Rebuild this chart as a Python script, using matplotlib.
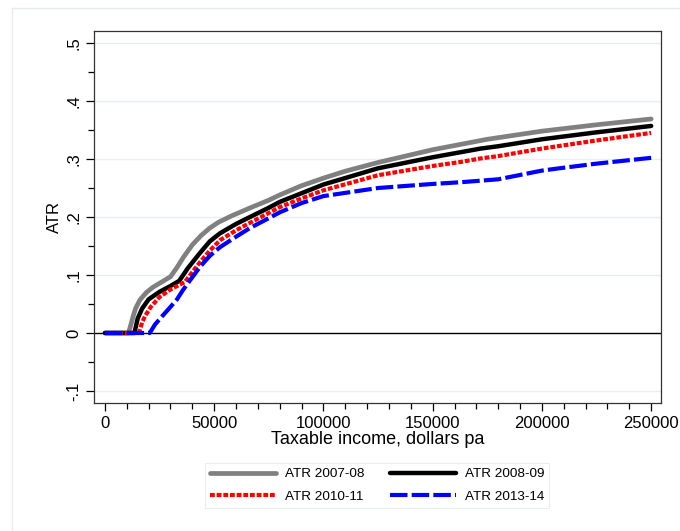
import matplotlib
matplotlib.use("Agg")
import matplotlib.pyplot as plt
from matplotlib.lines import Line2D
from matplotlib.ticker import MultipleLocator, FuncFormatter

plt.rcParams["font.family"] = ["Liberation Sans", "DejaVu Sans"]

# ATR curves (income in dollars, average tax rate)
inc_0708 = [0, 10800, 12000, 13000, 14000, 16000, 19000, 22000, 26000, 30000, 33000,
            36000, 40000, 44000, 48000, 52000, 58000, 66000, 75000, 80000, 90000,
            100000, 110000, 125000, 150000, 175000, 200000, 225000, 250000]
atr_0708 = [0, 0, 0.016, 0.03, 0.042, 0.057, 0.07, 0.079, 0.088, 0.097, 0.113,
            0.131, 0.152, 0.168, 0.181, 0.191, 0.202, 0.215, 0.229, 0.238, 0.254,
            0.267, 0.279, 0.294, 0.316, 0.334, 0.348, 0.359, 0.369]

inc_0809 = [0, 13500, 15000, 17000, 20000, 25000, 30000, 34000, 38000, 43500, 48000,
            52700, 60000, 66400, 75000, 80000, 90000, 100000, 125000, 150000, 172000,
            180000, 200000, 225000, 250000]
atr_0809 = [0, 0, 0.025, 0.042, 0.058, 0.071, 0.081, 0.09, 0.112, 0.138, 0.158,
            0.172, 0.188, 0.2, 0.216, 0.226, 0.241, 0.256, 0.284, 0.303, 0.318,
            0.322, 0.334, 0.346, 0.357]

inc_1011 = [0, 15600, 17000, 18500, 21000, 25000, 30000, 36600, 40000, 43500, 48000,
            52700, 60000, 66400, 75000, 80000, 90000, 100000, 125000, 150000, 163000,
            172000, 180000, 200000, 225000, 250000]
atr_1011 = [0, 0, 0.018, 0.03, 0.045, 0.062, 0.075, 0.088, 0.105, 0.122, 0.142,
            0.16, 0.177, 0.19, 0.207, 0.217, 0.232, 0.246, 0.272, 0.288, 0.295,
            0.301, 0.305, 0.318, 0.332, 0.345]

inc_1314 = [0, 20500, 23000, 26000, 30000, 33000, 35700, 39000, 43500, 48000, 52700,
            60000, 66400, 75000, 80000, 90000, 100000, 125000, 150000, 163000, 180000,
            200000, 208000, 225000, 250000]
atr_1314 = [0, 0, 0.015, 0.028, 0.045, 0.058, 0.074, 0.091, 0.114, 0.133, 0.148,
            0.166, 0.181, 0.198, 0.208, 0.224, 0.236, 0.25, 0.257, 0.26, 0.265,
            0.28, 0.284, 0.292, 0.302]

labels = ["ATR 2007-08", "ATR 2008-09", "ATR 2010-11", "ATR 2013-14"]
y_ticks = [-0.1, 0, 0.1, 0.2, 0.3, 0.4, 0.5]
x_ticks = [0, 50000, 100000, 150000, 200000, 250000]

GRID = "#e8eff1"

fig = plt.figure(figsize=(6.8, 5.31), dpi=100, facecolor="white")
ax = fig.add_axes([94 / 680, 1 - 403 / 531, 567 / 680, 372 / 531])

for y in y_ticks:
    if y != 0:
        ax.axhline(y, color=GRID, lw=1.0, zorder=0)
ax.axhline(0, color="black", lw=1.0, zorder=1)

l1, = ax.plot(inc_0708, atr_0708, color="#808080", lw=3.4, solid_capstyle="round",
              solid_joinstyle="round", label=labels[0], zorder=3)
l2, = ax.plot(inc_0809, atr_0809, color="black", lw=3.2, solid_capstyle="round",
              solid_joinstyle="round", label=labels[1], zorder=4)
l3, = ax.plot(inc_1011, atr_1011, color="red", lw=3.0, dashes=(1.15, 0.45),
              label=labels[2], zorder=5)
l4, = ax.plot(inc_1314, atr_1314, color="blue", lw=3.0, dashes=(4.2, 1.0),
              label=labels[3], zorder=6)

ax.set_xlim(-5000, 254500)
ax.set_ylim(-0.1207, 0.5207)

ax.set_xticks(x_ticks)
ax.xaxis.set_minor_locator(MultipleLocator(10000))
ax.set_yticks(y_ticks)
ax.yaxis.set_minor_locator(MultipleLocator(0.05))


def fmt_y(v, pos):
    if abs(v) < 1e-9:
        return "0"
    s = f"{v:.1f}"
    return s.replace("0.", ".")


ax.yaxis.set_major_formatter(FuncFormatter(fmt_y))
ax.tick_params(axis="both", which="major", length=6, width=0.9, labelsize=12, color="black")
ax.tick_params(axis="both", which="minor", length=4, width=0.9, color="black")
ax.tick_params(axis="y", which="major", labelrotation=90, pad=3)
for lab in ax.get_yticklabels():
    lab.set_va("center")

for spine in ax.spines.values():
    spine.set_color("#333333")
    spine.set_linewidth(0.9)

ax.set_xlabel("Taxable income, dollars pa", fontsize=13, labelpad=0)
ax.set_ylabel("ATR", fontsize=12)
ax.yaxis.set_label_coords(-0.056, 0.5)

# row-major legend order: (2007-08, 2008-09) / (2010-11, 2013-14)
leg = fig.legend(handles=[l1, l3, l2, l4], loc="center",
                 bbox_to_anchor=(377 / 680, 1 - 485.5 / 531), ncol=2,
                 fontsize=9.7, frameon=True, fancybox=False, edgecolor="#e4e8ea",
                 handlelength=4.9, columnspacing=1.9, handletextpad=0.67,
                 borderpad=0.35, labelspacing=0.75)
leg.get_frame().set_linewidth(0.8)

# outer graph-region frame
fig.add_artist(Line2D([12 / 680, 12 / 680], [0, 1 - 8 / 531], color="#e6ecee", lw=1.0))
fig.add_artist(Line2D([12 / 680, 1], [1 - 8 / 531, 1 - 8 / 531], color="#e6ecee", lw=1.0))

fig.savefig("out.png", dpi=100, facecolor="white")
